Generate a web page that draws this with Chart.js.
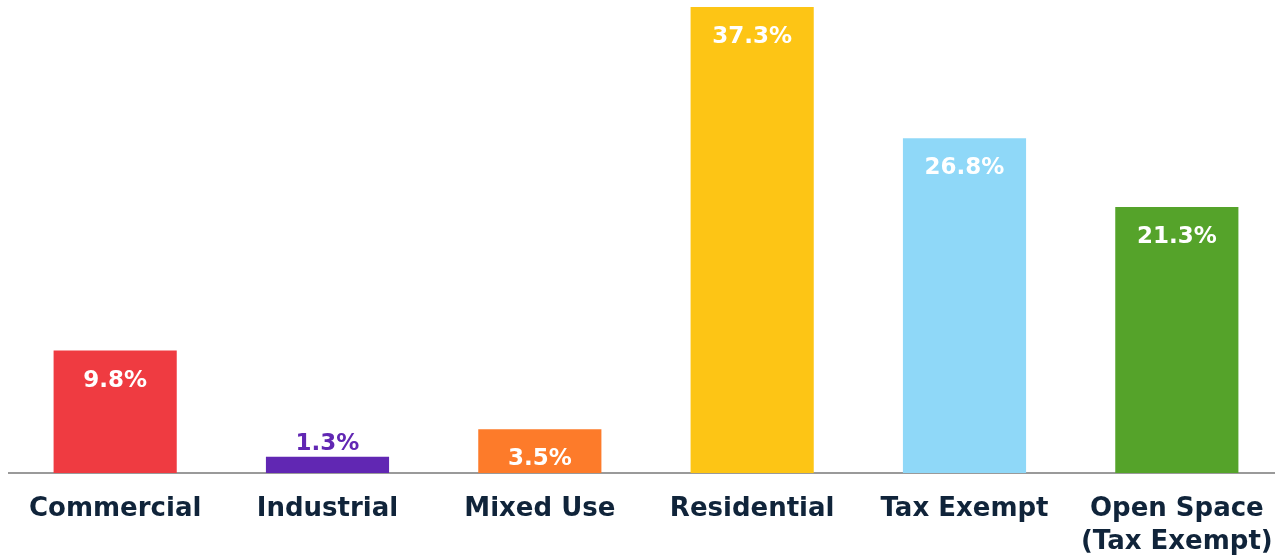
<!DOCTYPE html>
<html>
<head>
<meta charset="utf-8">
<script src="https://cdn.jsdelivr.net/npm/chart.js@4"></script>
<style>
  html, body { margin: 0; padding: 0; background: #fff; overflow: hidden; }
  /* the original chart is cut a few px on the right, so draw slightly wider */
  #wrap { width: 1283px; height: 558px; position: relative; }
</style>
</head>
<body>
<div id="wrap"><canvas id="myChart"></canvas></div>
<script>
// categories & values (percent of land use)
const categories = ['Commercial', 'Industrial', 'Mixed Use', 'Residential', 'Tax Exempt', ['Open Space', '(Tax Exempt)']];
const shares = [9.8, 1.3, 3.5, 37.3, 26.8, 21.3];
const barColors = ['#EF3B41', '#6127B3', '#FD7B2A', '#FDC515', '#8FD8F8', '#55A32A'];

const textNavy = '#10243A';
const labelFont = "'DejaVu Sans', sans-serif";

// simple value labels: white inside the bar, or above it if the bar is too short
const valueLabels = {
    id: 'valueLabels',
    afterDatasetsDraw(chart) {
        const c = chart.ctx;
        const meta = chart.getDatasetMeta(0);
        c.save();
        c.font = '700 23px ' + labelFont;
        c.textAlign = 'center';
        c.textBaseline = 'middle';
        meta.data.forEach((bar, i) => {
            const h = bar.base - bar.y;
            const txt = shares[i].toFixed(1) + '%';
            if (h > 40) {
                c.fillStyle = '#ffffff';
                c.fillText(txt, bar.x, bar.y + 30);
            } else {
                c.fillStyle = barColors[i];
                c.fillText(txt, bar.x, bar.y - 13);
            }
        });
        c.restore();
    }
};

const ctx = document.getElementById('myChart');
const myChart = new Chart(ctx, {
    type: 'bar',
    data: {
        labels: categories,
        datasets: [{
            data: shares,
            backgroundColor: barColors,
            barPercentage: 0.58,
            categoryPercentage: 1.0
        }]
    },
    options: {
        responsive: true,
        maintainAspectRatio: false,
        animation: false,
        layout: { padding: { top: 7, left: 9, right: 0, bottom: 0 } },
        plugins: { legend: { display: false }, tooltip: { enabled: false } },
        scales: {
            y: {
                display: false,
                min: 0,
                max: 37.3
            },
            x: {
                grid: { display: false },
                border: { display: true, color: '#9a9a9a', width: 2 },
                afterFit(scale) {
                    scale.height = 85;
                    scale.paddingLeft = 0;
                    scale.paddingRight = 0;
                },
                ticks: {
                    color: textNavy,
                    padding: 12,
                    maxRotation: 0,
                    font: { family: labelFont, size: 26, weight: '700', lineHeight: 1.27 }
                }
            }
        }
    },
    plugins: [valueLabels]
});
</script>
</body>
</html>
